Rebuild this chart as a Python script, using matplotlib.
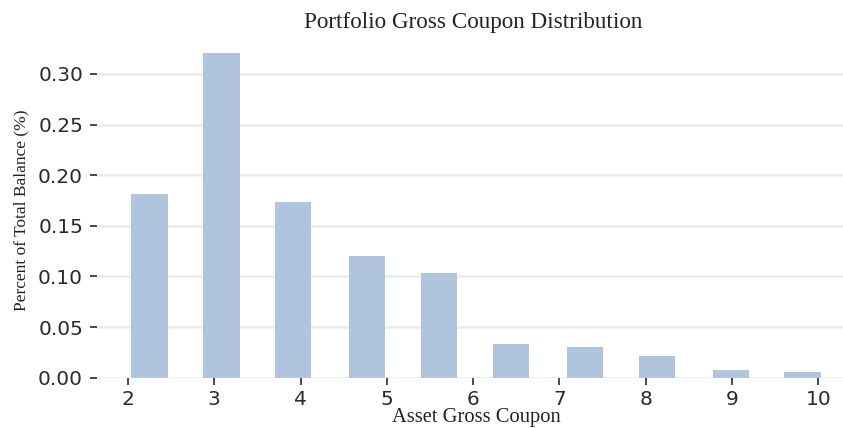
import matplotlib
matplotlib.use('Agg')
import matplotlib.pyplot as plt
from matplotlib.ticker import FormatStrFormatter

# Histogram bins (left edge of each bar, in coupon %) and share of total balance
bin_left = [2.04, 2.874, 3.705, 4.559, 5.394, 6.230, 7.085, 7.917, 8.775, 9.606]
bar_width = 0.42
shares = [0.181, 0.3205, 0.1733, 0.1206, 0.1032, 0.0333, 0.0303, 0.0211, 0.0073, 0.0056]
x_ticks = [2, 3, 4, 5, 6, 7, 8, 9, 10]
y_ticks = [0.00, 0.05, 0.10, 0.15, 0.20, 0.25, 0.30]

title = "Portfolio Gross Coupon Distribution"
xlabel = "Asset Gross Coupon"
ylabel = "Percent of Total Balance (%)"

W, H = 843, 428
fig = plt.figure(figsize=(W / 100, H / 100), dpi=100)
ax = fig.add_axes([97 / W, 1 - 377.7 / H, (855 - 97) / W, (377.7 - 37) / H])

ax.bar(bin_left, shares, width=bar_width, align='edge', color='#b0c4de',
       edgecolor='none', zorder=2)

ax.set_xticks(x_ticks)
ax.set_yticks(y_ticks)
ax.yaxis.set_major_formatter(FormatStrFormatter('%.2f'))
ax.set_ylim(0, max(shares) * 1.05)
ax.grid(axis='y', color='#ebebeb', linewidth=1.8, zorder=0)
ax.set_axisbelow(True)
for s in ax.spines.values():
    s.set_visible(False)
ax.tick_params(axis='both', labelsize=14.5, colors='#2a2a2a', length=5, width=1.2,
               direction='out')
ax.tick_params(axis='y', pad=5)
ax.tick_params(axis='x', pad=4)

serif = ['Liberation Serif', 'DejaVu Serif']
fig.text(473 / W, 1 - 28 / H, title, ha='center', va='baseline',
         fontsize=16.7, family=serif, color='#222222')
fig.text(476.5 / W, 1 - 422 / H, xlabel, ha='center', va='baseline',
         fontsize=14.8, family=serif, color='#222222')
fig.text(21 / W, 1 - 210 / H, ylabel, ha='center', va='center', rotation=90,
         fontsize=12.5, family=serif, color='#222222')

fig.savefig('out.png', dpi=100)
